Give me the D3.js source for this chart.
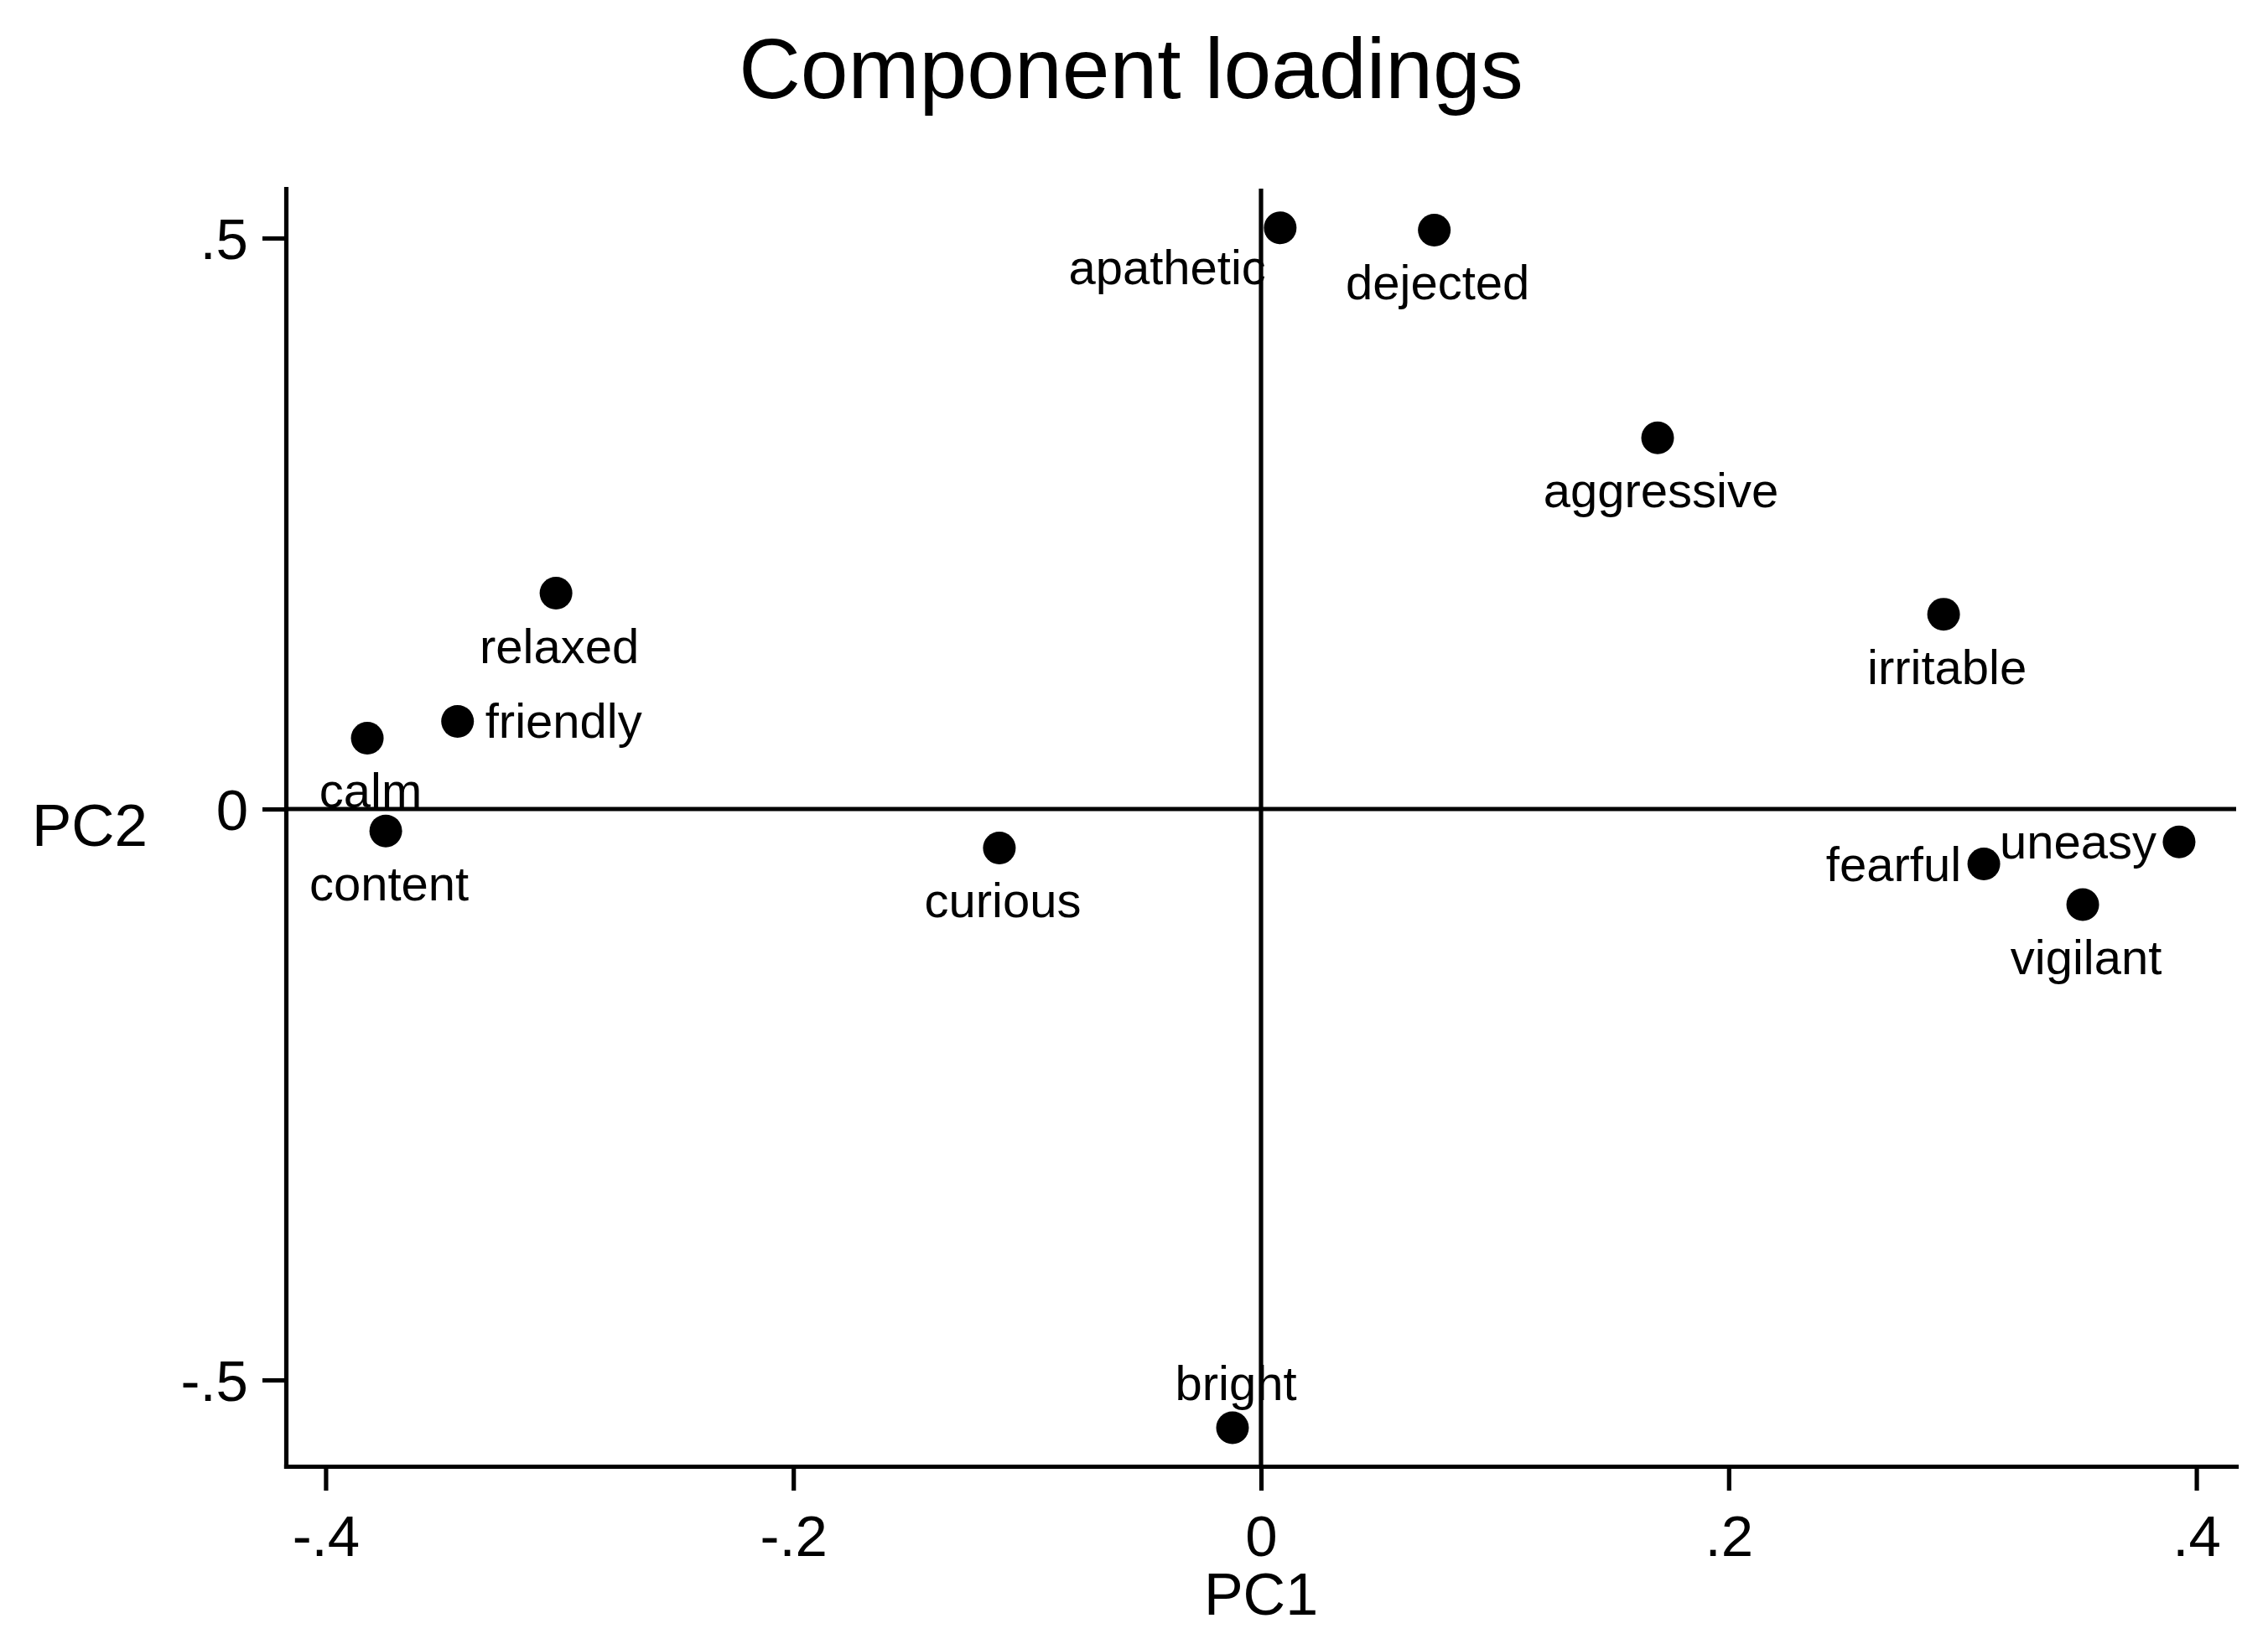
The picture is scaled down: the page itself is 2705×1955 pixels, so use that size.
<!DOCTYPE html>
<html>
<head>
<meta charset="utf-8">
<script src="https://cdn.jsdelivr.net/npm/d3@7/dist/d3.min.js"></script>
<style>
  html, body { margin: 0; padding: 0; background: #ffffff; }
  svg { display: block; }
  text { font-family: "Liberation Sans", Arial, Helvetica, sans-serif; fill: #000; }
</style>
</head>
<body>
<div id="chart"></div>
<script>
// ---- data ----
const variableNames = ["apathetic","dejected","aggressive","irritable","relaxed","friendly","calm","content","curious","fearful","uneasy","vigilant","bright"];
const pc1Loadings = [0.0082, 0.0741, 0.1696, 0.2919, -0.3015, -0.3436, -0.3822, -0.3743, -0.1119, 0.3091, 0.3926, 0.3514, -0.0122];
const pc2Loadings = [0.509, 0.507, 0.325, 0.1706, 0.189, 0.0768, 0.0621, -0.0192, -0.0341, -0.0481, -0.0288, -0.0837, -0.5418];
const labelClock = [7, 6, 6, 6, 6, 3, 6, 6, 6, 9, 9, 6, 12];
const xTickValues = [-0.4, -0.2, 0, 0.2, 0.4];
const xTickLabels = ["-.4", "-.2", "0", ".2", ".4"];
const yTickValues = [-0.5, 0, 0.5];
const yTickLabels = ["-.5", "0", ".5"];
const chartTitle = "Component loadings";
const xTitle = "PC1";
const yTitle = "PC2";

// ---- layout ----
const W = 2705, H = 1955;
const plotLeft = 341, plotRight = 2667, plotTop = 225, plotBottom = 1749;
const lineW = 5.2;

const svg = d3.select("#chart").append("svg")
  .attr("width", W).attr("height", H)
  .attr("viewBox", `0 0 ${W} ${H}`);

svg.append("rect").attr("width", W).attr("height", H).attr("fill", "#fff");

const x = d3.scaleLinear().domain([-0.417, 0.417]).range([plotLeft, plotRight]);
const y = d3.scaleLinear().domain([-0.5756, 0.5433]).range([plotBottom, plotTop]);

// zero reference lines
svg.append("line")
  .attr("x1", plotLeft).attr("x2", plotRight)
  .attr("y1", y(0)).attr("y2", y(0))
  .attr("stroke", "#000").attr("stroke-width", lineW);
svg.append("line")
  .attr("x1", x(0)).attr("x2", x(0))
  .attr("y1", plotTop).attr("y2", plotBottom)
  .attr("stroke", "#000").attr("stroke-width", lineW);

// axes
const xAxis = d3.axisBottom(x)
  .tickValues(xTickValues)
  .tickFormat((d, i) => xTickLabels[i])
  .tickSize(29).tickSizeOuter(0).tickPadding(29);
const gx = svg.append("g").attr("transform", `translate(0,${plotBottom})`).call(xAxis);

const yAxis = d3.axisLeft(y)
  .tickValues(yTickValues)
  .tickFormat((d, i) => yTickLabels[i])
  .tickSize(28).tickSizeOuter(0).tickPadding(17);
const gy = svg.append("g").attr("transform", `translate(${plotLeft},0)`).call(yAxis);

[gx, gy].forEach(g => {
  g.selectAll("path.domain").attr("stroke", "#000").attr("stroke-width", lineW).attr("stroke-linecap", "square");
  g.selectAll(".tick line").attr("stroke", "#000").attr("stroke-width", lineW);
  g.selectAll(".tick text")
    .attr("fill", "#000")
    .style("font-family", '"Liberation Sans", Arial, sans-serif')
    .style("font-size", "69px");
});
gy.selectAll(".tick text").attr("dy", "0.36em");

// titles
svg.append("text")
  .attr("x", 1349).attr("y", 117)
  .attr("text-anchor", "middle")
  .style("font-size", "102px")
  .text(chartTitle);

svg.append("text")
  .attr("x", (plotLeft + plotRight) / 2).attr("y", 1926)
  .attr("text-anchor", "middle")
  .style("font-size", "70px")
  .text(xTitle);

svg.append("text")
  .attr("x", 107).attr("y", 1009)
  .attr("text-anchor", "middle")
  .style("font-size", "71px")
  .text(yTitle);

// points
const pts = variableNames.map((n, i) => ({ name: n, px: pc1Loadings[i], py: pc2Loadings[i], clock: labelClock[i] }));

svg.append("g").selectAll("circle").data(pts).join("circle")
  .attr("cx", d => x(d.px))
  .attr("cy", d => y(d.py))
  .attr("r", 19.5)
  .attr("fill", "#000");

// label placement by clock position (style only)
const clockStyle = {
  3:  { anchor: "start",  dx: 33,  dy: 20 },
  6:  { anchor: "middle", dx: 4,   dy: 83 },
  7:  { anchor: "end",    dx: -17, dy: 67 },
  9:  { anchor: "end",    dx: -27, dy: 20 },
  12: { anchor: "middle", dx: 4,   dy: -33 }
};

svg.append("g").selectAll("text").data(pts).join("text")
  .attr("x", d => x(d.px) + clockStyle[d.clock].dx)
  .attr("y", d => y(d.py) + clockStyle[d.clock].dy)
  .attr("text-anchor", d => clockStyle[d.clock].anchor)
  .style("font-size", "58px")
  .text(d => d.name);
</script>
</body>
</html>
